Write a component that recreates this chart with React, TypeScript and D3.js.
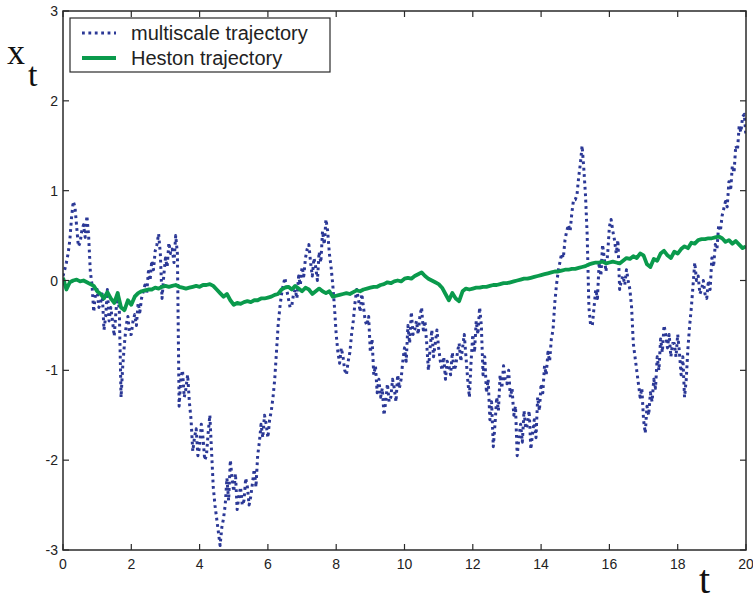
import React from "react";
import * as d3 from "d3";

// Sample spacing of the multiscale trajectory (time units)
const dtMultiscale = 0.05;
// Sample spacing of the Heston trajectory (time units)
const dtHeston = 0.1;

// Multiscale stochastic-volatility trajectory x_t, t = 0 .. 20 (one row = 0.5 time units)
const multiscale: number[] = [
  0.05, 0.12, 0.2, 0.3, 0.45, 0.7, 0.88, 0.82, 0.6, 0.38,
  0.42, 0.55, 0.62, 0.48, 0.72, 0.5, 0.1, -0.05, -0.35, -0.15,
  -0.1, -0.3, -0.25, -0.15, -0.55, -0.4, -0.1, -0.45, -0.3, -0.45,
  -0.62, -0.35, -0.12, -0.35, -1.3, -0.95, -0.7, -0.5, -0.4, -0.6,
  -0.6, -0.45, -0.38, -0.5, -0.25, -0.35, -0.2, -0.12, -0.05, -0.15,
  0.1, 0.0, 0.22, 0.12, 0.33, 0.4, 0.52, 0.3, -0.2, 0.05,
  0.25, 0.15, 0.42, 0.3, 0.35, 0.2, 0.5, 0.3, -1.4, -1.1,
  -1.0, -1.3, -1.2, -1.05, -1.35, -1.55, -1.9, -1.75, -1.65, -1.95,
  -1.85, -1.6, -1.75, -2.0, -1.95, -1.7, -1.5, -1.9, -2.3, -2.5,
  -2.65, -2.8, -2.95, -2.75, -2.65, -2.5, -2.2, -2.45, -2.0, -2.2,
  -2.35, -2.15, -2.55, -2.4, -2.3, -2.5, -2.45, -2.2, -2.3, -2.5,
  -2.4, -2.25, -2.1, -2.3, -1.95, -1.8, -1.6, -1.75, -1.5, -1.6,
  -1.75, -1.55, -1.45, -1.3, -1.1, -0.8, -0.5, -0.3, -0.15, -0.05,
  0.03, -0.1, -0.2, -0.3, -0.28, -0.15, -0.1, -0.2, 0.05, -0.05,
  0.15, 0.05, 0.25, 0.35, 0.4, 0.2, 0.05, 0.25, 0.15, 0.0,
  0.32, 0.2, 0.55, 0.4, 0.68, 0.55, 0.3, 0.15, -0.05, -0.3,
  -0.6, -0.8, -0.92, -0.75, -0.85, -1.0, -1.05, -0.9, -0.8, -0.6,
  -0.45, -0.25, -0.1, -0.2, -0.35, -0.15, -0.3, -0.45, -0.5, -0.4,
  -0.8, -0.65, -1.05, -0.95, -1.25, -1.1, -1.3, -1.2, -1.5, -1.35,
  -1.15, -1.35, -1.3, -1.1, -1.2, -1.35, -1.05, -1.2, -1.1, -0.9,
  -0.75, -0.9, -0.5, -0.7, -0.35, -0.6, -0.55, -0.45, -0.6, -0.4,
  -0.3, -0.55, -0.45, -0.7, -1.0, -0.75, -0.55, -0.85, -0.7, -0.55,
  -0.75, -0.9, -1.0, -0.85, -1.1, -0.9, -0.95, -1.05, -0.8, -1.0,
  -0.95, -0.8, -0.7, -0.9, -0.75, -0.6, -0.85, -1.1, -1.3, -0.9,
  -0.6, -0.8, -0.45, -0.6, -0.3, -0.5, -1.05, -0.85, -1.25, -1.1,
  -1.55, -1.35, -1.85, -1.6, -1.3, -1.45, -1.05, -1.2, -0.95, -1.1,
  -1.15, -1.0, -1.3, -1.2, -1.5, -1.4, -1.95, -1.75, -1.6, -1.8,
  -1.45, -1.65, -1.6, -1.45, -1.88, -1.7, -1.55, -1.75, -1.3, -1.45,
  -1.15, -1.25, -0.95, -1.05, -0.8, -0.9, -0.65, -0.55, -0.25, -0.05,
  0.1, 0.2, 0.3, 0.25, 0.45, 0.55, 0.62, 0.55, 0.75, 0.9,
  0.9, 0.95, 1.15, 1.3, 1.5, 1.25, 0.95, 0.5, -0.3, -0.5,
  -0.5, -0.3, -0.1, -0.2, 0.2, 0.05, 0.4, 0.25, 0.1, 0.3,
  0.6, 0.68, 0.55, 0.45, 0.3, 0.45, -0.1, 0.0, 0.05, -0.05,
  0.12, 0.0, -0.1, -0.3, -0.7, -0.85, -1.0, -1.15, -1.3, -1.2,
  -1.55, -1.7, -1.4, -1.5, -1.25, -1.35, -1.1, -1.2, -0.85, -1.0,
  -0.65, -0.8, -0.5, -0.6, -0.75, -0.6, -0.85, -0.7, -0.7, -0.85,
  -0.6, -0.8, -1.05, -0.85, -1.3, -1.1, -0.75, -0.5, -0.3, -0.05,
  0.2, 0.0, 0.05, -0.15, -0.1, 0.0, -0.15, -0.2, 0.0, -0.1,
  0.25, 0.15, 0.4, 0.35, 0.62, 0.55, 0.72, 0.8, 0.88, 0.82,
  1.1, 1.0, 1.28, 1.2, 1.5, 1.45, 1.72, 1.65, 1.82, 1.85,
  1.6,
];

// Heston model trajectory x_t, t = 0 .. 20 (one row = 1 time unit)
const heston: number[] = [
  0.03, -0.1, -0.02, 0.0, 0.01, -0.01, 0.0, -0.02, -0.04, -0.06,
  -0.12, -0.15, -0.2, -0.13, -0.2, -0.25, -0.14, -0.3, -0.33, -0.22,
  -0.27, -0.18, -0.14, -0.12, -0.11, -0.1, -0.1, -0.08, -0.09, -0.07,
  -0.06, -0.07, -0.06, -0.05, -0.07, -0.08, -0.09, -0.08, -0.07, -0.06,
  -0.07, -0.05, -0.05, -0.04, -0.06, -0.1, -0.14, -0.18, -0.15, -0.22,
  -0.27, -0.25, -0.26, -0.24, -0.23, -0.24, -0.22, -0.22, -0.2, -0.2,
  -0.19, -0.18, -0.16, -0.15, -0.1, -0.08, -0.07, -0.1, -0.06, -0.09,
  -0.12, -0.08, -0.1, -0.15, -0.12, -0.09, -0.12, -0.14, -0.12, -0.18,
  -0.17, -0.16, -0.15, -0.14, -0.15, -0.13, -0.11, -0.12, -0.1, -0.09,
  -0.08, -0.07, -0.07, -0.05, -0.04, -0.02, -0.03, -0.01, 0.0, -0.01,
  0.02, 0.03, 0.02, 0.05, 0.07, 0.09, 0.05, 0.02, 0.0, -0.02,
  -0.04, -0.08, -0.15, -0.22, -0.14, -0.2, -0.23, -0.12, -0.09, -0.1,
  -0.09, -0.08, -0.08, -0.07, -0.07, -0.06, -0.05, -0.05, -0.04, -0.03,
  -0.03, -0.02, -0.01, 0.0, 0.01, 0.02, 0.02, 0.03, 0.04, 0.05,
  0.06, 0.07, 0.08, 0.09, 0.1, 0.1, 0.11, 0.12, 0.12, 0.13,
  0.13, 0.14, 0.15, 0.16, 0.18, 0.19, 0.2, 0.2, 0.21, 0.19,
  0.2, 0.21, 0.2, 0.19, 0.22, 0.25, 0.24, 0.27, 0.25, 0.3,
  0.28, 0.18, 0.15, 0.24, 0.22, 0.3, 0.33, 0.28, 0.25, 0.32,
  0.3, 0.35, 0.38, 0.36, 0.42, 0.41, 0.45, 0.46, 0.46, 0.47,
  0.47, 0.48, 0.49, 0.47, 0.43, 0.45, 0.41, 0.44, 0.4, 0.36,
  0.38,
];

const xTicks = [0, 2, 4, 6, 8, 10, 12, 14, 16, 18, 20];
const yTicks = [-3, -2, -1, 0, 1, 2, 3];

const seriesLabels = ["multiscale trajectory", "Heston trajectory"];

const W = 753;
const H = 601;
const plot = { left: 63, right: 746, top: 11, bottom: 550 };

const BLUE = "#2b3896";
const GREEN = "#0a9a4c";
const AXIS = "#2a2a2a";
const TICK_FONT = "'Liberation Sans', Arial, sans-serif";
const MATH_FONT = "'Liberation Serif', 'Times New Roman', serif";

export default function App() {
  const x = d3.scaleLinear().domain([0, 20]).range([plot.left, plot.right]);
  const y = d3.scaleLinear().domain([-3, 3]).range([plot.bottom, plot.top]);

  const lineFor = (dt: number) =>
    d3
      .line<number>()
      .x((_, i) => x(i * dt))
      .y((v) => y(v));

  const tickLen = 6;

  return (
    <svg
      width={W}
      height={H}
      style={{ position: "absolute", left: 0, top: 0, display: "block", background: "#fff" }}
    >
      <defs>
        <clipPath id="plotClip">
          <rect
            x={plot.left}
            y={plot.top}
            width={plot.right - plot.left}
            height={plot.bottom - plot.top}
          />
        </clipPath>
      </defs>

      {/* trajectories */}
      <g clipPath="url(#plotClip)">
        <path
          d={lineFor(dtMultiscale)(multiscale) ?? ""}
          fill="none"
          stroke={BLUE}
          strokeWidth={3}
          strokeDasharray="2.8 3.6"
          strokeLinejoin="round"
        />
        <path
          d={lineFor(dtHeston)(heston) ?? ""}
          fill="none"
          stroke={GREEN}
          strokeWidth={3.8}
          strokeLinejoin="round"
        />
      </g>

      {/* frame */}
      <rect
        x={plot.left}
        y={plot.top}
        width={plot.right - plot.left}
        height={plot.bottom - plot.top}
        fill="none"
        stroke={AXIS}
        strokeWidth={1.5}
      />

      {/* x ticks, mirrored on top */}
      {xTicks.map((t) => (
        <g key={`xt${t}`}>
          <line x1={x(t)} x2={x(t)} y1={plot.bottom} y2={plot.bottom - tickLen} stroke={AXIS} strokeWidth={1.2} />
          <line x1={x(t)} x2={x(t)} y1={plot.top} y2={plot.top + tickLen} stroke={AXIS} strokeWidth={1.2} />
          <text
            x={x(t)}
            y={plot.bottom + 19}
            textAnchor="middle"
            fontFamily={TICK_FONT}
            fontSize={14}
            fill="#222"
          >
            {t}
          </text>
        </g>
      ))}

      {/* y ticks, mirrored on the right */}
      {yTicks.map((v) => (
        <g key={`yt${v}`}>
          <line x1={plot.left} x2={plot.left + tickLen} y1={y(v)} y2={y(v)} stroke={AXIS} strokeWidth={1.2} />
          <line x1={plot.right} x2={plot.right - tickLen} y1={y(v)} y2={y(v)} stroke={AXIS} strokeWidth={1.2} />
          <text
            x={plot.left - 5}
            y={y(v) + 5}
            textAnchor="end"
            fontFamily={TICK_FONT}
            fontSize={14}
            fill="#222"
          >
            {v}
          </text>
        </g>
      ))}

      {/* axis labels */}
      <text x={7} y={64} fontFamily={MATH_FONT} fontSize={36} fill="#111">
        x
      </text>
      <text x={28} y={86} fontFamily={MATH_FONT} fontSize={34} fill="#111">
        t
      </text>
      <text x={699} y={593} fontFamily={MATH_FONT} fontSize={40} fill="#111">
        t
      </text>

      {/* legend */}
      <g>
        <rect x={70} y={18} width={260} height={54} fill="#fff" stroke={AXIS} strokeWidth={1.2} />
        <line x1={82} x2={116} y1={33} y2={33} stroke={BLUE} strokeWidth={3} strokeDasharray="2.8 3.6" />
        <line x1={82} x2={116} y1={58} y2={58} stroke={GREEN} strokeWidth={3.8} />
        <text x={131} y={40} fontFamily={TICK_FONT} fontSize={20} fill="#222">
          {seriesLabels[0]}
        </text>
        <text x={131} y={65} fontFamily={TICK_FONT} fontSize={20} fill="#222">
          {seriesLabels[1]}
        </text>
      </g>
    </svg>
  );
}
